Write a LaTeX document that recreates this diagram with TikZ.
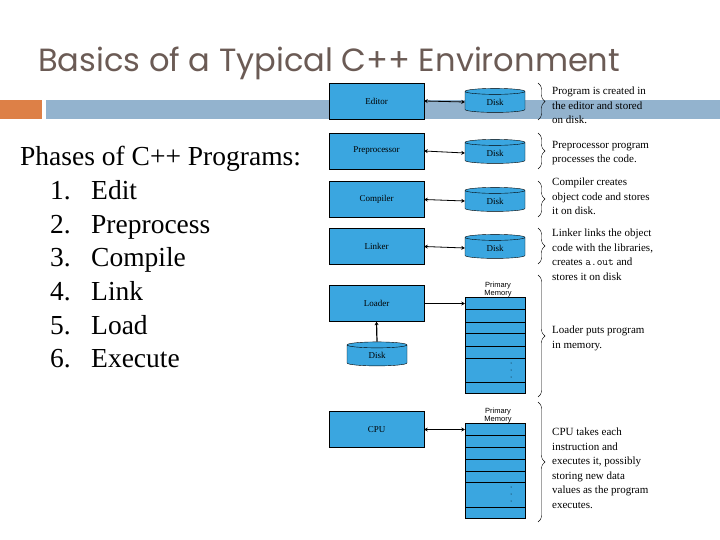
\documentclass[tikz,border=0pt]{standalone}
\usepackage{fontspec}
\setmainfont{Liberation Serif}
\newfontfamily\titlefont{Poppins}
\newfontfamily\smallsans{Liberation Sans}
\usetikzlibrary{shapes.geometric,decorations.pathreplacing,arrows.meta}
\definecolor{boxblue}{HTML}{3AA6E0}
\definecolor{bargray}{HTML}{93B3CE}
\definecolor{barorange}{HTML}{DD8047}
\definecolor{titlecol}{HTML}{6B5B55}
\begin{document}
\begin{tikzpicture}[x=1pt,y=-1pt,
  proc/.style={draw,fill=boxblue,minimum width=95pt,minimum height=36pt,inner sep=0pt,font=\fontsize{9}{10}\selectfont},
  disk/.style={draw,fill=boxblue,cylinder,shape border rotate=90,aspect=0.35,minimum width=60pt,minimum height=24pt,inner sep=0pt,font=\fontsize{9}{10}\selectfont},
  note/.style={anchor=north west,align=left,font=\fontsize{11}{14.5}\selectfont,inner sep=0pt},
  br/.style={decorate,decoration={brace,amplitude=7pt},thin},
  dbl/.style={{Stealth[length=3.5pt,width=4pt]}-{Stealth[length=3.5pt,width=4pt]},thick},
  sgl/.style={-{Stealth[length=3.5pt,width=4pt]}}]
\useasboundingbox (0,0) rectangle (720,540);
\fill[barorange] (0,100) rectangle (42,119);
\fill[bargray] (46,100) rectangle (720,119);
\node[anchor=base west,inner sep=0pt,text=titlecol] (title) at (38,72) {\resizebox{582pt}{!}{\titlefont\fontsize{30}{34}\selectfont Basics of a Typical C++ Environment}};
\node[anchor=base west,inner sep=0pt,font=\fontsize{27.5}{30}\selectfont] (phases) at (20,166) {Phases of C++ Programs:};
\foreach \n/\t [count=\i] in {1/Edit,2/Preprocess,3/Compile,4/Link,5/Load,6/Execute}{
  \node[anchor=base west,inner sep=0pt,font=\fontsize{27.5}{30}\selectfont] (num\i) at (50,{166+33.6*\i}) {\n.};
  \node[anchor=base west,inner sep=0pt,font=\fontsize{27.5}{30}\selectfont] (item\i) at (91,{166+33.6*\i}) {\t};
}
% process boxes
\node[proc] (editor) at (376.5,101) {Editor};
\node[proc] (prep) at (376.5,151) {Preprocessor};
\node[proc] (comp) at (376.5,199.5) {Compiler};
\node[proc] (link) at (376.5,246.5) {Linker};
\node[proc] (loader) at (376.5,303.5) {Loader};
\node[proc] (cpu) at (376.5,429.5) {CPU};
% disks
\node[disk] (d1) at (495,102) {Disk};
\node[disk] (d2) at (495,153) {Disk};
\node[disk] (d3) at (495,201) {Disk};
\node[disk] (d4) at (495,248) {Disk};
\node[disk] (d5) at (377,355.5) {Disk};
\draw[dbl] (editor.east) -- (d1.west);
\draw[dbl] (prep.east) -- (d2.west);
\draw[dbl] (comp.east) -- (d3.west);
\draw[dbl] (link.east) -- (d4.west);
\draw[sgl,very thick] (d5.north) -- (loader.south);
% memories
\node[draw,fill=boxblue,minimum width=60pt,minimum height=96pt,inner sep=0pt] (mem1) at (495,345) {};
\foreach \yy in {309,322,333,346,358,382} \draw (465,\yy) -- (525,\yy);
\foreach \yy in {363,370,377} \fill (511,\yy) circle (0.5pt);
\node[font=\smallsans\fontsize{7.5}{8}\selectfont,align=center,inner sep=0pt,anchor=south] (pm1) at (498,297) {Primary\\Memory};
\node[draw,fill=boxblue,minimum width=60pt,minimum height=95pt,inner sep=0pt] (mem2) at (495,470.5) {};
\foreach \yy in {435,447,459,471,482,507} \draw (465,\yy) -- (525,\yy);
\foreach \yy in {487,494,501} \fill (511,\yy) circle (0.5pt);
\node[font=\smallsans\fontsize{7.5}{8}\selectfont,align=center,inner sep=0pt,anchor=south] (pm2) at (498,423) {Primary\\Memory};
\draw[sgl] (loader.east) -- (loader.east -| mem1.west);
\draw[{Stealth[length=3.5pt,width=4pt]}-{Stealth[length=3.5pt,width=4pt]}] (cpu.east) -- (cpu.east -| mem2.west);
% braces
\draw[br] (538,83) -- (538,120);
\draw[br] (538,133) -- (538,169);
\draw[br] (538,181) -- (538,217);
\draw[br] (538,228) -- (538,264);
\draw[br] (538,275) -- (538,397);
\draw[br] (538,402) -- (538,522);
% notes
\node[note] (n1) at (552,87) {Program is created in\\the editor and stored\\on disk.};
\node[note] (n2) at (552,141) {Preprocessor program\\processes the code.};
\node[note] (n3) at (552,178) {Compiler creates\\object code and stores\\it on disk.};
\node[note] (n4) at (552,229) {Linker links the object\\code with the libraries,\\creates {\ttfamily a.out} and\\stores it on disk};
\node[note] (n5) at (552,326) {Loader puts program\\in memory.};
\node[note] (n6) at (552,428) {CPU takes each\\instruction and\\executes it, possibly\\storing new data\\values as the program\\executes.};
\end{tikzpicture}
\end{document}
